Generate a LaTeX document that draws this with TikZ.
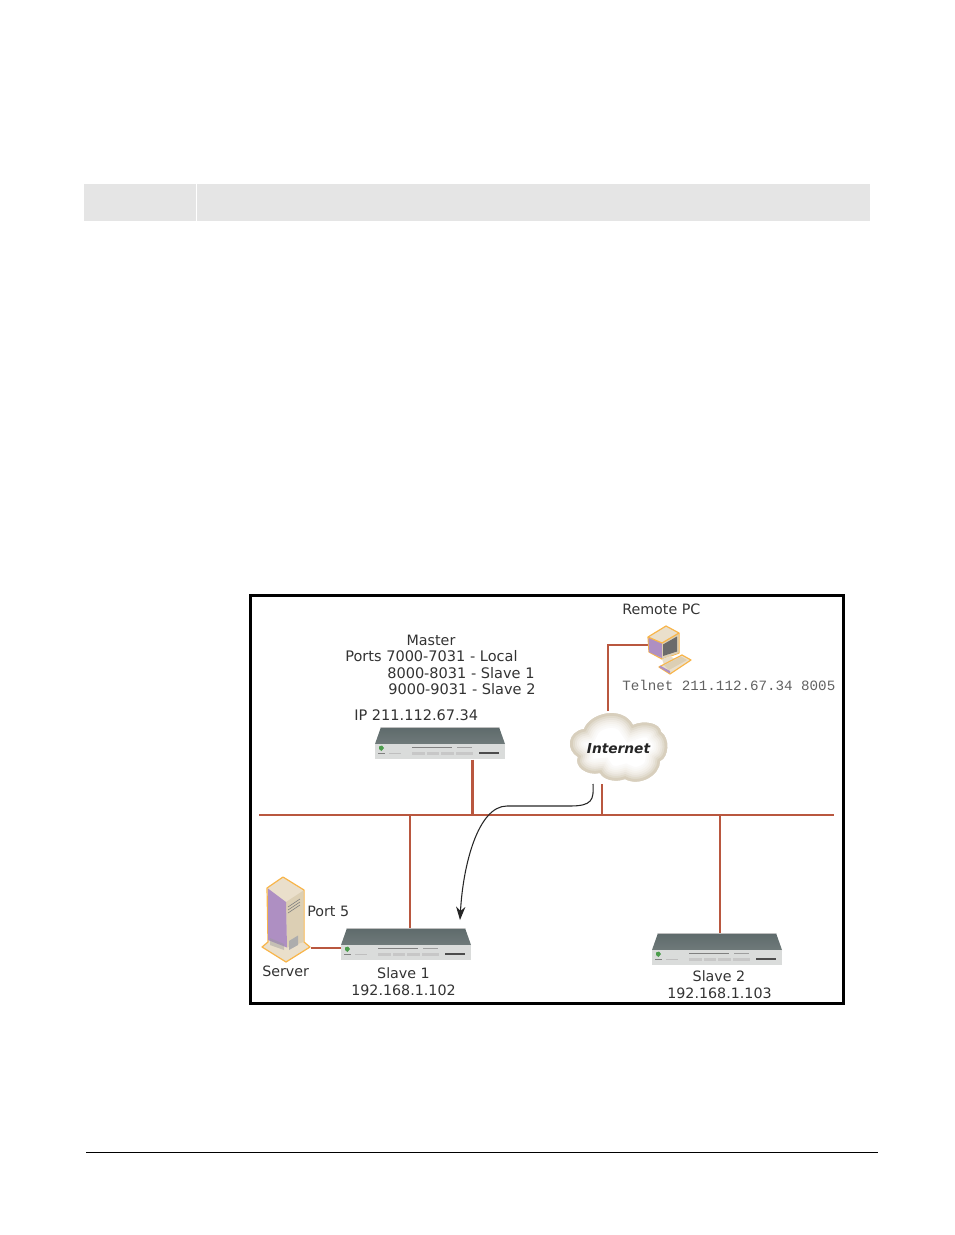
\documentclass[tikz,border=0pt]{standalone}
\usepackage{fontspec}
\setmainfont{DejaVu Sans}
\newfontfamily\monof{Liberation Mono}
\usetikzlibrary{arrows.meta,calc}
\definecolor{link}{HTML}{B9573F}
\definecolor{txt}{HTML}{333333}
\definecolor{ora}{HTML}{F8B54A}
\definecolor{purp}{HTML}{AE8FC2}
\definecolor{tanf}{HTML}{DCCFB4}
\definecolor{tanl}{HTML}{EADFCB}
\definecolor{cloudc}{HTML}{CFC4AE}
\definecolor{swtop}{HTML}{5E6A6B}
\definecolor{swtopb}{HTML}{6F7A7A}
\definecolor{swfront}{HTML}{DADCDB}
\tikzset{
 wire/.style={draw=link,line width=1.7pt},
 wirethick/.style={draw=link,line width=2.2pt},
 lab/.style={anchor=base west,inner sep=0,text=txt,font=\fontsize{10.7pt}{12pt}\selectfont},
 labw/.style={anchor=base west,inner sep=0,text=txt,font=\fontsize{10.9pt}{12pt}\selectfont},
 labc/.style={anchor=base,inner sep=0,text=txt,font=\fontsize{10.7pt}{12pt}\selectfont},
 swbox/.style={rectangle,inner sep=0,minimum width=97.5pt,minimum height=24pt,anchor=north west},
 art/.style={line width=0.9pt,draw=ora,line join=round},
}
\newcommand\switchart[2]{%
 \begin{scope}[shift={(#1,#2)}]
  \shade[top color=swtop,bottom color=swtopb] (6,0) -- (124,0) -- (130,17) -- (0,17) -- cycle;
  \fill[swfront] (0,16.5) -- (130,16.5) -- (130,32) -- (0,32) -- cycle;
  \draw[black!25,line width=0.5pt] (6,0) -- (124,0);
  \fill[black!50] (37,19.8) rectangle (77,21);
  \fill[black!38] (82,19.8) rectangle (97,21);
  \fill[black!22] (37,24.5) rectangle (50,28.4);
  \fill[black!22] (52,24.5) rectangle (64,28.4);
  \fill[black!22] (66,24.5) rectangle (79,28.4);
  \fill[black!22] (81,24.5) rectangle (98,28.4);
  \fill[black!70] (104,25.2) rectangle (124,26.6);
  \fill[green!45!black!70] (4,19.5) -- (7,18.5) -- (9,21) -- (6.5,24) -- (4,22) -- cycle;
  \fill[black!50] (3,25.8) rectangle (10,26.6);
  \fill[black!25] (14,25.8) rectangle (26,26.8);
 \end{scope}}
\begin{document}
\begin{tikzpicture}[x=0.75pt,y=-0.75pt]
\useasboundingbox (0,0) rectangle (954,1235);
% page furniture
\fill[black!10] (84,184) rectangle (870,221);
\draw[white,line width=0.9pt] (196.5,184) -- (196.5,221);
\draw[black,line width=0.75pt] (86,1152.5) -- (878,1152.5);
\draw[black,line width=2.4pt] (250.5,595.5) rectangle (843.5,1003.5);

% positions
\node[swbox] (master) at (375,727) {};
\node[swbox] (slave1) at (341,928) {};
\node[swbox] (slave2) at (652,933) {};
\coordinate (busL) at (259,815);
\coordinate (busR) at (834,815);
\coordinate (jm) at (472.5,815);
\coordinate (js1) at (410,815);
\coordinate (js2) at (720,815);
\coordinate (jc) at (602,815);
\coordinate (cloudb) at (602,784);
\coordinate (cloudt) at (608,711);
\coordinate (pcp) at (649,645);
\coordinate (srvp) at (311,948);

% wires
\draw[wire] (busL) -- (busR);
\draw[wirethick] (master.south -| jm) -- (jm);
\draw[wire] (js1) -- (slave1.north -| js1);
\draw[wire] (js2) -- (slave2.north -| js2);
\draw[wire] (cloudb) -- (jc);
\draw[wire] (cloudt) |- (pcp);
\draw[wire] (srvp) -- (slave1.west |- srvp);

% switches
\switchart{375}{727}
\switchart{341}{928}
\switchart{652}{933}

% cloud
\def\cloudpath{(584,729)
  .. controls (590,713) and (622,705) .. (633,725)
  .. controls (644,720) and (660,723) .. (661,732)
  .. controls (670,738) and (669,757) .. (660,761)
  .. controls (660,775) and (640,787) .. (625,779)
  .. controls (614,783) and (603,779) .. (600,773)
  .. controls (586,776) and (574,766) .. (578,757)
  .. controls (566,750) and (567,732) .. (584,729) -- cycle}
\begin{scope}
 \clip \cloudpath;
 \fill[white] (560,700) rectangle (680,790);
 \foreach \w/\o in {22/8,19/14,16/22,13/32,10/45,7/62,4/82}{
  \draw[cloudc!\o,line width=\w pt] \cloudpath;}
\end{scope}
\node[inner sep=0,anchor=base,font=\fontsize{10.3pt}{12pt}\selectfont\bfseries\itshape,text=black!85] (inet) at (618.5,753) {Internet};

% computer
\fill[tanl,art] (648,637) -- (666,626) -- (679,633) -- (679,653) -- (662,659) -- (649,652) -- cycle;
\fill[purp] (648.5,637.5) -- (662,643) -- (662,658) -- (649,652) -- cycle;
\fill[tanf] (662,643) -- (678.5,633.5) -- (678.5,653) -- (662,658.5) -- cycle;
\fill[black!58] (663,644.5) -- (677,636.5) -- (677,651.5) -- (663,656) -- cycle;
\draw[ora,line width=0.9pt,line join=round] (648,637) -- (662,643) -- (679,633);
\fill[tanf!70!white] (662,659) -- (670,656) -- (675,659) -- (664,665) -- cycle;
\fill[tanl,art] (659,667) -- (682,655) -- (691,660) -- (670,674) -- cycle;
\fill[purp] (659.5,667.5) -- (670,673.5) -- (670,671) -- (660,665.5) -- cycle;
\fill[tanf] (664,665) -- (681,656.5) -- (687,660) -- (669,670) -- cycle;

% server
\fill[tanl,art] (262,947) -- (268,942) -- (267,888) -- (283,877) -- (304,890) -- (304,942) -- (310,947) -- (286,962) -- cycle;
\fill[tanf] (286,902) -- (303.5,890.5) -- (303.5,942) -- (287,947.5) -- cycle;
\fill[purp] (268,888.5) -- (286,902) -- (287,947.5) -- (268,940) -- cycle;
\draw[black!50,line width=0.5pt] (288,907) -- (300,899) (288,910) -- (300,902) (288,913) -- (300,905);
\fill[black!32] (289,941) -- (298,935.5) -- (298,945) -- (289,950) -- cycle;
\fill[black!40,opacity=.45] (270,938) -- (284,944) -- (284,950) -- (270,945) -- cycle;

% texts
\node[labc] (tmaster) at (431,645) {Master};
\node[labw] (tports) at (345,661) {Ports 7000-7031 - Local};
\node[labw] (tp2) at (387,678) {8000-8031 - Slave 1};
\node[labw] (tp3) at (388,694) {9000-9031 - Slave 2};
\node[labw] (tip) at (354,720) {IP 211.112.67.34};
\node[lab] (trem) at (622,614) {Remote PC};
\node[lab,font=\monof\fontsize{10.65pt}{12pt}\selectfont,text=black!62] (ttel) at (622,690) {Telnet 211.112.67.34 8005};
\node[lab] (tport5) at (307,916) {Port 5};
\node[lab] (tsrv) at (262,976) {Server};
\node[labc] (ts1) at (403.5,978) {Slave 1};
\node[labc] (ts1i) at (403.5,995) {192.168.1.102};
\node[labc] (ts2) at (719,981) {Slave 2};
\node[labc] (ts2i) at (719.5,998) {192.168.1.103};

% call-out arrow
\coordinate (arrS) at (593,784);
\coordinate (arrE) at (460,920);
\draw[black!85,line width=0.8pt,-{Stealth[length=10pt,width=7pt]}] (arrS) .. controls (594,800) and (592,806) .. (570,806)
  -- (507,806) .. controls (478,806) and (463,865) .. (arrE);
\end{tikzpicture}
\end{document}
